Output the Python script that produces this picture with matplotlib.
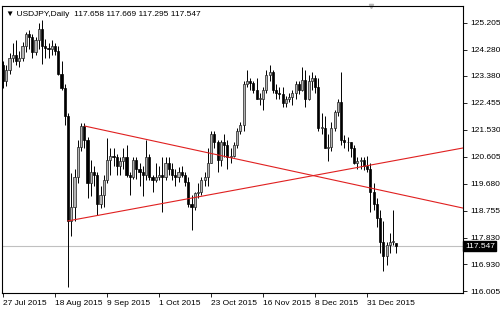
import numpy as np
import matplotlib
matplotlib.use('Agg')
import matplotlib.pyplot as plt
import matplotlib.transforms as mtransforms

plt.rcParams['font.family'] = ['Liberation Sans', 'DejaVu Sans']

# daily USDJPY bars, 27 Jul 2015 .. mid Jan 2016
opens = [123.75, 123.20, 123.60, 124.00, 124.10, 123.90, 124.00, 124.40, 124.80, 124.70,
         124.20, 124.60, 125.00, 124.40, 124.35, 124.30, 124.40, 124.25, 123.45, 122.95,
         122.00, 118.40, 118.90, 119.90, 120.95, 121.65, 121.20, 119.70, 120.10, 120.00,
         119.00, 119.30, 119.80, 120.50, 120.65, 120.60, 120.30, 120.45, 120.60, 120.00,
         119.90, 120.50, 120.20, 120.10, 120.00, 120.60, 119.90, 119.80, 119.90, 120.00,
         119.90, 120.40, 120.20, 120.00, 119.90, 120.10, 120.00, 119.75, 119.00, 118.90,
         119.35, 119.40, 119.80, 119.90, 120.40, 121.40, 121.10, 120.50, 121.10, 121.00,
         120.60, 120.65, 121.00, 121.50, 121.70, 123.10, 123.20, 123.15, 122.90, 122.60,
         122.60, 122.90, 123.40, 123.50, 122.90, 122.80, 122.75, 122.45, 122.60, 122.65,
         122.80, 123.10, 122.90, 123.25, 122.60, 123.20, 123.30, 123.00, 121.60, 121.60,
         120.90, 120.95, 121.60, 122.15, 122.50, 121.20, 121.10, 121.10, 120.90, 120.40,
         120.45, 120.50, 120.30, 120.20, 119.40, 119.00, 118.50, 117.70, 117.20, 117.60,
         117.70, 117.658]
highs = [123.90, 123.75, 124.15, 124.50, 124.60, 124.25, 124.55, 124.90, 124.95, 124.80,
         124.70, 125.20, 125.28, 124.65, 124.50, 124.60, 124.50, 124.40, 123.90, 123.10,
         122.10, 120.05, 120.20, 121.20, 121.75, 121.75, 121.30, 120.50, 120.30, 120.10,
         119.60, 120.00, 121.25, 120.90, 120.90, 120.70, 120.60, 120.90, 121.00, 120.10,
         120.60, 120.60, 120.40, 120.30, 121.20, 120.70, 120.00, 120.40, 120.30, 120.60,
         120.60, 120.60, 120.40, 120.20, 120.25, 120.30, 120.10, 119.90, 119.30, 119.40,
         119.70, 119.90, 120.10, 120.90, 121.50, 121.50, 121.20, 121.20, 121.40, 121.20,
         120.90, 121.10, 121.60, 121.80, 123.20, 123.60, 123.30, 123.20, 123.30, 122.80,
         123.00, 123.60, 123.76, 123.60, 123.10, 123.00, 123.00, 122.70, 122.80, 122.90,
         123.20, 123.20, 123.70, 123.60, 123.40, 123.50, 123.40, 123.30, 122.10, 122.00,
         121.40, 121.80, 122.20, 122.60, 123.50, 121.35, 121.30, 121.10, 121.00, 120.60,
         120.60, 120.60, 120.65, 120.40, 119.70, 119.20, 118.80, 118.40, 117.70, 118.00,
         118.80, 117.669]
lows = [122.95, 123.05, 123.45, 123.85, 123.75, 123.70, 123.90, 124.20, 124.30, 124.00,
        124.10, 124.30, 123.80, 124.00, 124.00, 124.10, 124.10, 123.40, 122.90, 121.70,
        116.15, 117.90, 118.40, 119.70, 120.80, 120.90, 119.20, 119.25, 119.60, 118.60,
        118.85, 118.90, 119.70, 120.00, 120.30, 120.00, 120.00, 120.20, 119.90, 119.30,
        119.85, 119.85, 119.60, 119.25, 119.80, 119.80, 119.40, 119.75, 119.80, 118.70,
        119.80, 120.00, 119.80, 119.60, 119.75, 119.90, 119.60, 118.90, 118.10, 118.80,
        119.20, 119.30, 119.60, 119.60, 120.40, 120.90, 120.10, 120.30, 120.60, 120.20,
        120.40, 120.60, 120.90, 121.40, 121.50, 123.00, 122.90, 122.80, 122.60, 122.40,
        122.20, 122.80, 123.20, 122.80, 122.60, 122.60, 122.30, 122.30, 122.50, 122.40,
        122.60, 122.75, 122.85, 122.30, 122.55, 122.90, 122.80, 121.50, 121.40, 120.90,
        120.45, 120.80, 121.50, 122.00, 121.00, 120.90, 120.80, 120.60, 120.35, 120.20,
        120.20, 120.15, 120.10, 118.70, 118.80, 118.20, 117.30, 116.70, 116.90, 117.30,
        117.60, 117.295]
closes = [123.20, 123.60, 124.00, 124.10, 123.90, 124.00, 124.40, 124.80, 124.70, 124.20,
          124.60, 125.00, 124.40, 124.35, 124.30, 124.40, 124.25, 123.45, 122.95, 122.00,
          118.40, 118.90, 119.90, 120.95, 121.65, 121.20, 119.70, 120.10, 120.00, 119.00,
          119.30, 119.80, 120.50, 120.65, 120.60, 120.30, 120.45, 120.60, 120.00, 119.90,
          120.50, 120.20, 120.10, 120.00, 120.60, 119.90, 119.80, 119.90, 120.00, 119.90,
          120.40, 120.20, 120.00, 119.90, 120.10, 120.00, 119.75, 119.00, 118.90, 119.35,
          119.40, 119.80, 119.90, 120.40, 121.40, 121.10, 120.50, 121.10, 121.00, 120.60,
          120.65, 121.00, 121.50, 121.70, 123.10, 123.20, 123.15, 122.90, 122.60, 122.60,
          122.90, 123.40, 123.50, 122.90, 122.80, 122.75, 122.45, 122.60, 122.65, 122.80,
          123.10, 122.90, 123.25, 122.60, 123.20, 123.30, 123.00, 121.60, 121.60, 120.90,
          120.95, 121.60, 122.15, 122.50, 121.20, 121.10, 121.10, 120.90, 120.40, 120.45,
          120.50, 120.30, 120.20, 119.40, 119.00, 118.50, 117.70, 117.20, 117.60, 117.70,
          117.70, 117.547]

date_labels = ['27 Jul 2015', '18 Aug 2015', '9 Sep 2015', '1 Oct 2015',
               '23 Oct 2015', '16 Nov 2015', '8 Dec 2015', '31 Dec 2015']
price_ticks = [125.205, 124.280, 123.380, 122.455, 121.530, 120.605,
               119.680, 118.755, 117.830, 116.930, 116.005]
last_price = 117.547

# trend lines (bar index, price) as drawn on the chart
upper_line_x = [25.2, 141.5]
upper_line_y = [121.66, 118.85]
lower_line_x = [20.0, 141.5]
lower_line_y = [118.41, 120.91]

o = np.array(opens)
h = np.array(highs)
l = np.array(lows)
c = np.array(closes)
idx = np.arange(len(o))

fig = plt.figure(figsize=(5, 3.11), dpi=100)
ax = fig.add_axes([0.004, 0.058, 0.922, 0.923])

# wicks
ax.vlines(idx, l, h, color='black', linewidth=0.7, zorder=2)
# bodies
up = c >= o
body_h = np.maximum(np.abs(c - o), 0.02)
ax.bar(idx[up], body_h[up], bottom=np.minimum(o, c)[up], width=0.65,
       color='#b4b4b4', edgecolor='#202020', linewidth=0.5, zorder=3)
ax.bar(idx[~up], body_h[~up], bottom=np.minimum(o, c)[~up], width=0.65,
       color='black', edgecolor='black', linewidth=0.5, zorder=3)

ax.axhline(last_price, color='#c0c0c0', linewidth=0.8, zorder=1)

ax.plot(upper_line_x, upper_line_y, color='#e02020', linewidth=0.8, zorder=4)
ax.plot(lower_line_x, lower_line_y, color='#e02020', linewidth=0.8, zorder=4)

ax.set_xlim(-0.31, 141.5)
ax.set_ylim(115.94, 125.78)

ax.yaxis.tick_right()
ax.set_yticks(price_ticks)
ax.set_yticklabels(['%.3f' % v for v in price_ticks])
ax.set_xticks(np.arange(0, 16 * len(date_labels), 16))
ax.set_xticklabels(date_labels)
for lab in ax.get_xticklabels():
    lab.set_horizontalalignment('left')
ax.tick_params(axis='both', direction='out', length=3, width=0.6, labelsize=6, pad=2)
for sp in ax.spines.values():
    sp.set_linewidth(0.8)

trans = mtransforms.blended_transform_factory(ax.transAxes, ax.transData)
ax.text(1.004, last_price, '117.547', transform=trans, ha='left', va='center',
        color='white', fontsize=6,
        bbox=dict(facecolor='black', edgecolor='black', pad=1.0))

ax.text(0.008, 0.982, '\u25bc USDJPY,Daily  117.658 117.669 117.295 117.547',
        transform=ax.transAxes, ha='left', va='top', fontsize=6)

# chart shift marker
ax.plot([113.1], [125.78], marker='v', color='#b8b8b8', markersize=3, clip_on=False)

fig.savefig('out.png', dpi=100)
